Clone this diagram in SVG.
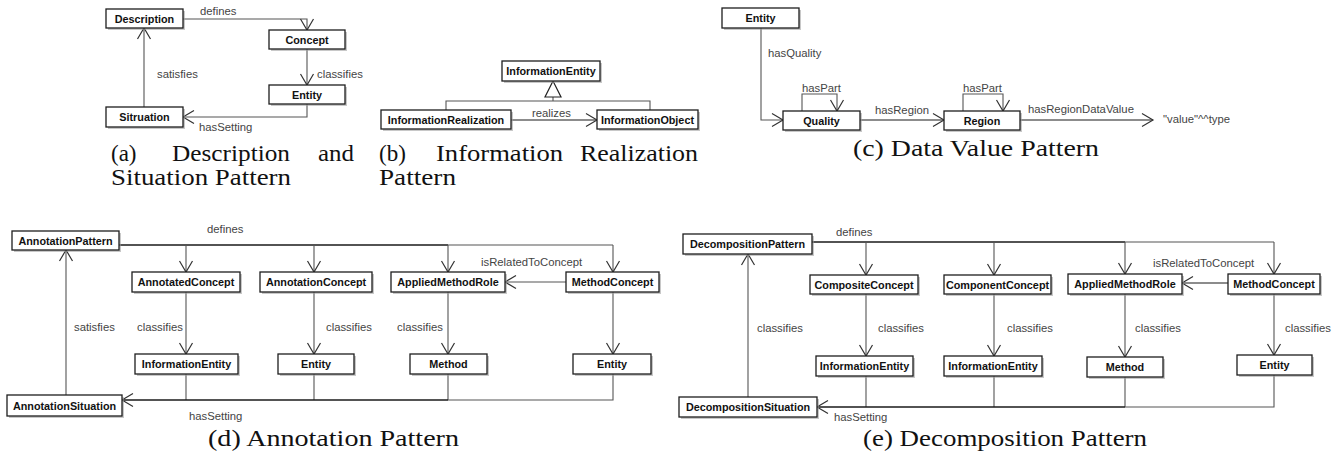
<svg xmlns="http://www.w3.org/2000/svg" width="1343" height="459" viewBox="0 0 1343 459">
<style>
.bg{fill:#fff}
.sh{fill:#9a9a9a;opacity:.55}
.bx{fill:#fff;stroke:#1e1e1e;stroke-width:1.3}
.nt{font-family:"Liberation Sans",Arial,sans-serif;font-weight:bold;font-size:10.8px;fill:#111;text-anchor:middle}
.lb{font-family:"Liberation Sans",Arial,sans-serif;font-size:11.3px;fill:#444}
.cap{font-family:"Liberation Serif","DejaVu Serif",serif;font-size:23px;fill:#111}
.ln{fill:none;stroke:#555;stroke-width:1.1}
.dk{fill:none;stroke:#1a1a1a;stroke-width:1.6}
.ar{marker-end:url(#open)}
</style>
<defs>
<marker id="open" viewBox="-13 -8 15 16" refX="0" refY="0" markerWidth="15" markerHeight="16" markerUnits="userSpaceOnUse" orient="auto">
<path d="M-11,-6.5 L0,0 L-11,6.5" fill="none" stroke="#333" stroke-width="1.2"/>
</marker>
</defs>
<rect class="bg" x="0" y="0" width="1343" height="459"/>

<g id="connectors">
<!-- (a) -->
<path class="ln ar" d="M183,19 H307 V30"/>
<path class="ln ar" d="M307,49 V85"/>
<path class="ln ar" d="M307,104 V117 H183"/>
<path class="ln ar" d="M144,107 V28"/>
<!-- (b) -->
<path class="ln" d="M446,110 V101 H650 V110"/>
<path class="ln" d="M553,101 V97"/>
<polygon points="553,81 545,97 561,97" fill="#fff" stroke="#222" stroke-width="1.2"/>
<path class="dk ar" d="M511,120 H597" style="stroke-width:1.2"/>
<!-- (c) -->
<path class="ln ar" d="M761,28 V120 H783"/>
<path class="ln ar" d="M802,111 V94 H837 V111"/>
<path class="ln ar" d="M963,111 V94 H1003 V111"/>
<path class="dk ar" d="M860,120 H944" style="stroke-width:1.2"/>
<path class="dk ar" d="M1020,120 H1153" style="stroke-width:1.2"/>
<!-- (d) -->
<path class="dk" d="M119,245 H448"/>
<path class="ln" d="M448,245 H613"/>
<path class="ln ar" d="M186,245 V272"/>
<path class="ln ar" d="M314,245 V272"/>
<path class="ln ar" d="M448,245 V272"/>
<path class="ln ar" d="M613,245 V272"/>
<path class="ln ar" d="M566,282 H505"/>
<path class="ln ar" d="M186,292 V354"/>
<path class="ln ar" d="M314,292 V354"/>
<path class="ln ar" d="M448,292 V354"/>
<path class="ln ar" d="M613,292 V354"/>
<path class="ln" d="M186,374 V400"/>
<path class="ln" d="M314,374 V400"/>
<path class="ln" d="M448,374 V400"/>
<path class="ln" d="M613,374 V400 H448"/>
<path class="dk ar" d="M448,400 H122"/>
<path class="ln ar" d="M66,395 V250"/>
<!-- (e) -->
<path class="dk" d="M812,242 H1125"/>
<path class="ln" d="M1125,242 H1274"/>
<path class="ln ar" d="M866,242 V275"/>
<path class="ln ar" d="M994,242 V275"/>
<path class="ln ar" d="M1125,242 V274"/>
<path class="ln ar" d="M1274,242 V274"/>
<path class="dk ar" d="M1228,283 H1182" style="stroke-width:1.2"/>
<path class="ln ar" d="M866,294 V356"/>
<path class="ln ar" d="M994,294 V356"/>
<path class="ln ar" d="M1125,294 V357"/>
<path class="ln ar" d="M1274,294 V355"/>
<path class="ln" d="M866,376 V407"/>
<path class="ln" d="M994,376 V407"/>
<path class="ln" d="M1125,377 V407"/>
<path class="ln" d="M1274,375 V407 H1125"/>
<path class="dk ar" d="M1125,407 H817"/>
<path class="ln ar" d="M748,397 V254"/>
</g>

<g id="edge-labels">
<text class="lb" x="200" y="15">defines</text>
<text class="lb" x="317" y="78">classifies</text>
<text class="lb" x="199" y="131">hasSetting</text>
<text class="lb" x="157" y="78">satisfies</text>
<text class="lb" x="532" y="117">realizes</text>
<text class="lb" x="768" y="57">hasQuality</text>
<text class="lb" x="802" y="92">hasPart</text>
<text class="lb" x="963" y="92">hasPart</text>
<text class="lb" x="875" y="114">hasRegion</text>
<text class="lb" x="1028" y="113">hasRegionDataValue</text>
<text class="lb" x="1163" y="123">"value"^^type</text>
<text class="lb" x="207" y="233">defines</text>
<text class="lb" x="481" y="266">isRelatedToConcept</text>
<text class="lb" x="74" y="331">satisfies</text>
<text class="lb" x="137" y="331">classifies</text>
<text class="lb" x="326" y="331">classifies</text>
<text class="lb" x="397" y="331">classifies</text>
<text class="lb" x="189" y="420">hasSetting</text>
<text class="lb" x="836" y="236">defines</text>
<text class="lb" x="1153" y="267">isRelatedToConcept</text>
<text class="lb" x="757" y="332">classifies</text>
<text class="lb" x="878" y="332">classifies</text>
<text class="lb" x="1007" y="332">classifies</text>
<text class="lb" x="1135" y="332">classifies</text>
<text class="lb" x="1285" y="332">classifies</text>
<text class="lb" x="834" y="421">hasSetting</text>
</g>

<!-- (a) nodes -->
<g id="a-description"><rect class="sh" x="108" y="11" width="77" height="19"/><rect class="bx" x="106" y="9" width="77" height="19"/><text class="nt" x="144.5" y="22.5">Description</text></g>
<g id="a-concept"><rect class="sh" x="271" y="32" width="76" height="19"/><rect class="bx" x="269" y="30" width="76" height="19"/><text class="nt" x="307" y="43.5">Concept</text></g>
<g id="a-entity"><rect class="sh" x="271" y="87" width="76" height="19"/><rect class="bx" x="269" y="85" width="76" height="19"/><text class="nt" x="307" y="98.5">Entity</text></g>
<g id="a-situation"><rect class="sh" x="108" y="109" width="77" height="20"/><rect class="bx" x="106" y="107" width="77" height="20"/><text class="nt" x="144.5" y="121">Sitruation</text></g>
<!-- (b) nodes -->
<g id="b-informationentity"><rect class="sh" x="504" y="63" width="98" height="20"/><rect class="bx" x="502" y="61" width="98" height="20"/><text class="nt" x="551" y="75">InformationEntity</text></g>
<g id="b-informationrealization"><rect class="sh" x="383" y="112" width="130" height="19"/><rect class="bx" x="381" y="110" width="130" height="19"/><text class="nt" x="446" y="123.5">InformationRealization</text></g>
<g id="b-informationobject"><rect class="sh" x="599" y="112" width="101" height="19"/><rect class="bx" x="597" y="110" width="101" height="19"/><text class="nt" x="647.5" y="123.5">InformationObject</text></g>
<!-- (c) nodes -->
<g id="c-entity"><rect class="sh" x="724" y="10" width="77" height="20"/><rect class="bx" x="722" y="8" width="77" height="20"/><text class="nt" x="760.5" y="22">Entity</text></g>
<g id="c-quality"><rect class="sh" x="785" y="113" width="77" height="19"/><rect class="bx" x="783" y="111" width="77" height="19"/><text class="nt" x="821.5" y="124.5">Quality</text></g>
<g id="c-region"><rect class="sh" x="946" y="113" width="76" height="19"/><rect class="bx" x="944" y="111" width="76" height="19"/><text class="nt" x="982" y="124.5">Region</text></g>
<!-- (d) nodes -->
<g id="d-annotationpattern"><rect class="sh" x="14" y="233" width="107" height="19"/><rect class="bx" x="12" y="231" width="107" height="19"/><text class="nt" x="65.5" y="244.5">AnnotationPattern</text></g>
<g id="d-annotatedconcept"><rect class="sh" x="134" y="274" width="108" height="20"/><rect class="bx" x="132" y="272" width="108" height="20"/><text class="nt" x="186" y="286">AnnotatedConcept</text></g>
<g id="d-annotationconcept"><rect class="sh" x="262" y="274" width="112" height="20"/><rect class="bx" x="260" y="272" width="112" height="20"/><text class="nt" x="316" y="286">AnnotationConcept</text></g>
<g id="d-appliedmethodrole"><rect class="sh" x="393" y="274" width="114" height="20"/><rect class="bx" x="391" y="272" width="114" height="20"/><text class="nt" x="448" y="286">AppliedMethodRole</text></g>
<g id="d-methodconcept"><rect class="sh" x="568" y="274" width="93" height="20"/><rect class="bx" x="566" y="272" width="93" height="20"/><text class="nt" x="612.5" y="286">MethodConcept</text></g>
<g id="d-informationentity"><rect class="sh" x="137" y="356" width="103" height="20"/><rect class="bx" x="135" y="354" width="103" height="20"/><text class="nt" x="186.5" y="368">InformationEntity</text></g>
<g id="d-entity1"><rect class="sh" x="280" y="356" width="76" height="20"/><rect class="bx" x="278" y="354" width="76" height="20"/><text class="nt" x="316" y="368">Entity</text></g>
<g id="d-method"><rect class="sh" x="412" y="356" width="77" height="20"/><rect class="bx" x="410" y="354" width="77" height="20"/><text class="nt" x="448.5" y="368">Method</text></g>
<g id="d-entity2"><rect class="sh" x="575" y="356" width="78" height="20"/><rect class="bx" x="573" y="354" width="78" height="20"/><text class="nt" x="612" y="368">Entity</text></g>
<g id="d-annotationsituation"><rect class="sh" x="9" y="397" width="115" height="21"/><rect class="bx" x="7" y="395" width="115" height="21"/><text class="nt" x="64.5" y="409.5">AnnotationSituation</text></g>
<!-- (e) nodes -->
<g id="e-decompositionpattern"><rect class="sh" x="685" y="236" width="129" height="20"/><rect class="bx" x="683" y="234" width="129" height="20"/><text class="nt" x="747.5" y="248">DecompositionPattern</text></g>
<g id="e-compositeconcept"><rect class="sh" x="812" y="277" width="108" height="19"/><rect class="bx" x="810" y="275" width="108" height="19"/><text class="nt" x="864" y="288.5">CompositeConcept</text></g>
<g id="e-componentconcept"><rect class="sh" x="946" y="277" width="107" height="19"/><rect class="bx" x="944" y="275" width="107" height="19"/><text class="nt" x="997.5" y="288.5">ComponentConcept</text></g>
<g id="e-appliedmethodrole"><rect class="sh" x="1070" y="276" width="114" height="20"/><rect class="bx" x="1068" y="274" width="114" height="20"/><text class="nt" x="1125" y="288">AppliedMethodRole</text></g>
<g id="e-methodconcept"><rect class="sh" x="1230" y="276" width="92" height="20"/><rect class="bx" x="1228" y="274" width="92" height="20"/><text class="nt" x="1274" y="288">MethodConcept</text></g>
<g id="e-informationentity1"><rect class="sh" x="818" y="358" width="97" height="20"/><rect class="bx" x="816" y="356" width="97" height="20"/><text class="nt" x="864.5" y="370">InformationEntity</text></g>
<g id="e-informationentity2"><rect class="sh" x="946" y="358" width="98" height="20"/><rect class="bx" x="944" y="356" width="98" height="20"/><text class="nt" x="993" y="370">InformationEntity</text></g>
<g id="e-method"><rect class="sh" x="1089" y="359" width="76" height="20"/><rect class="bx" x="1087" y="357" width="76" height="20"/><text class="nt" x="1125" y="371">Method</text></g>
<g id="e-entity"><rect class="sh" x="1239" y="357" width="75" height="20"/><rect class="bx" x="1237" y="355" width="75" height="20"/><text class="nt" x="1274.5" y="369">Entity</text></g>
<g id="e-decompositionsituation"><rect class="sh" x="681" y="399" width="138" height="20"/><rect class="bx" x="679" y="397" width="138" height="20"/><text class="nt" x="748" y="411">DecompositionSituation</text></g>

<g id="captions">
<text class="cap" x="111" y="161">(a)</text>
<text class="cap" x="172" y="161" textLength="118" lengthAdjust="spacingAndGlyphs">Description</text>
<text class="cap" x="318" y="161" textLength="36" lengthAdjust="spacingAndGlyphs">and</text>
<text class="cap" x="111" y="185" textLength="180" lengthAdjust="spacingAndGlyphs">Situation Pattern</text>
<text class="cap" x="379" y="161">(b)</text>
<text class="cap" x="436" y="161" textLength="127" lengthAdjust="spacingAndGlyphs">Information</text>
<text class="cap" x="580" y="161" textLength="118" lengthAdjust="spacingAndGlyphs">Realization</text>
<text class="cap" x="379" y="185" textLength="77" lengthAdjust="spacingAndGlyphs">Pattern</text>
<text class="cap" x="853" y="156" textLength="246" lengthAdjust="spacingAndGlyphs">(c) Data Value Pattern</text>
<text class="cap" x="208" y="446" textLength="251" lengthAdjust="spacingAndGlyphs">(d) Annotation Pattern</text>
<text class="cap" x="863" y="446" textLength="284" lengthAdjust="spacingAndGlyphs">(e) Decomposition Pattern</text>
</g>
</svg>
